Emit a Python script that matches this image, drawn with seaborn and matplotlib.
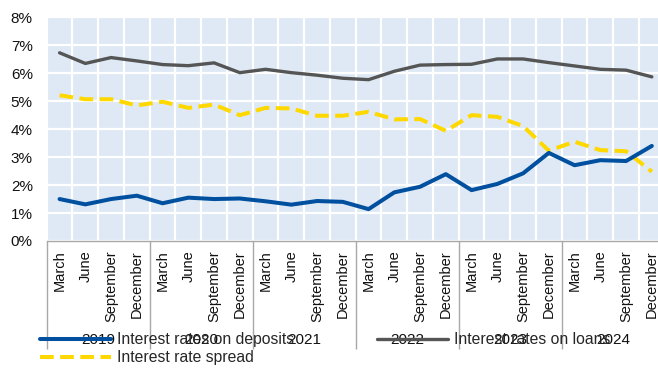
import numpy as np
import pandas as pd
import matplotlib
matplotlib.use("Agg")
import matplotlib.pyplot as plt
from matplotlib.ticker import MultipleLocator, FuncFormatter
import seaborn as sns

# Quarterly observations, 2019 Q1 - 2024 Q4 (per cent)
years = ["2019", "2020", "2021", "2022", "2023", "2024"]
months = ["March", "June", "September", "December"]

deposits = [1.50, 1.31, 1.50, 1.62, 1.35, 1.55, 1.50, 1.52, 1.42, 1.30, 1.43, 1.40,
            1.14, 1.74, 1.94, 2.39, 1.82, 2.04, 2.42, 3.15, 2.71, 2.89, 2.86, 3.40]
loans = [6.73, 6.35, 6.56, 6.44, 6.31, 6.27, 6.37, 6.02, 6.14, 6.02, 5.93, 5.82,
         5.77, 6.07, 6.29, 6.31, 6.32, 6.51, 6.51, 6.38, 6.26, 6.14, 6.11, 5.87]
spread = [5.21, 5.07, 5.07, 4.85, 4.98, 4.76, 4.88, 4.50, 4.76, 4.74, 4.48, 4.48,
          4.62, 4.35, 4.36, 3.94, 4.50, 4.44, 4.11, 3.23, 3.55, 3.25, 3.21, 2.48]

labels = ["Interest rates on deposits", "Interest rate spread", "Interest rates on loans"]

n = len(deposits)
df = pd.DataFrame({"t": np.arange(n), "deposits": deposits, "loans": loans, "spread": spread})

sns.set_style("white")
plt.rcParams["font.family"] = ["Liberation Sans", "DejaVu Sans"]
plt.rcParams["font.size"] = 10

W, H = 658, 368
fig = plt.figure(figsize=(W / 100, H / 100), dpi=100)
left, right, top, bottom = 46.7, 664.7, 17.3, 241.0
ax = fig.add_axes([left / W, 1 - bottom / H, (right - left) / W, (bottom - top) / H])
ax.set_facecolor("#DEE9F5")

BLUE, GREY, YELLOW = "#00509F", "#555555", "#FFD800"
TXT = "#111111"

sns.lineplot(data=df, x="t", y="loans", ax=ax, color=GREY, lw=2.4,
             solid_joinstyle="round", solid_capstyle="round", label=labels[2], zorder=3)
sns.lineplot(data=df, x="t", y="spread", ax=ax, color=YELLOW, lw=2.9,
             dashes=False, linestyle=(0, (3.4, 1.6)), label=labels[1], zorder=3)
sns.lineplot(data=df, x="t", y="deposits", ax=ax, color=BLUE, lw=2.9,
             solid_joinstyle="round", solid_capstyle="round", label=labels[0], zorder=4)

ax.set_xlim(-0.5, n - 0.5)
ax.set_ylim(0, 8)
ax.set_xlabel("")
ax.set_ylabel("")

# y axis: percent labels, white horizontal grid
ax.yaxis.set_major_locator(MultipleLocator(1))
ax.yaxis.set_major_formatter(FuncFormatter(lambda v, _: f"{int(round(v))}%"))
ax.tick_params(axis="y", length=0, pad=10, labelsize=11, labelcolor=TXT)

# x axis: month labels centred in each quarter, separators at boundaries
ax.set_xticks(np.arange(n))
ax.set_xticklabels(months * len(years), rotation=90)
ax.set_xticks(np.arange(-0.5, n, 1), minor=True)
ax.tick_params(axis="x", which="major", length=0, pad=6.5, labelsize=10.5, labelcolor=TXT)
ax.tick_params(axis="x", which="minor", length=58, width=1, color="#A8A8A8", direction="out")

ax.grid(False)
ax.yaxis.grid(True, which="major", color="white", lw=1.6)
ax.xaxis.grid(True, which="minor", color="white", lw=1.6)
ax.set_axisbelow(True)

for s in ["left", "top", "right"]:
    ax.spines[s].set_visible(False)
ax.spines["bottom"].set_color("#A8A8A8")
ax.spines["bottom"].set_linewidth(1)

# year row beneath the months
sec = ax.secondary_xaxis("bottom")
bounds = np.arange(-0.5, n, 4)
sec.set_xticks(bounds)
sec.set_xticklabels([""] * len(bounds))
sec.set_xticks(np.arange(1.5, n, 4), labels=years, minor=True)
sec.tick_params(axis="x", which="major", length=78, width=1, color="#A8A8A8", direction="out")
sec.tick_params(axis="x", which="minor", length=0, pad=66, labelsize=11, labelcolor=TXT)
for s in sec.spines.values():
    s.set_visible(False)

# legend below, drawn on top of the year row
handles, lbls = ax.get_legend_handles_labels()
lookup = dict(zip(lbls, handles))
ax.get_legend().remove()
fig.legend([lookup[l] for l in labels], labels, ncol=2, loc="upper left",
           bbox_to_anchor=(40 / W, 1 - 332 / H), frameon=False, fontsize=11.3,
           handlelength=4.5, handletextpad=0.4, columnspacing=5.3,
           labelspacing=0.2, borderaxespad=0, borderpad=0)

fig.savefig("out.png", dpi=100)
